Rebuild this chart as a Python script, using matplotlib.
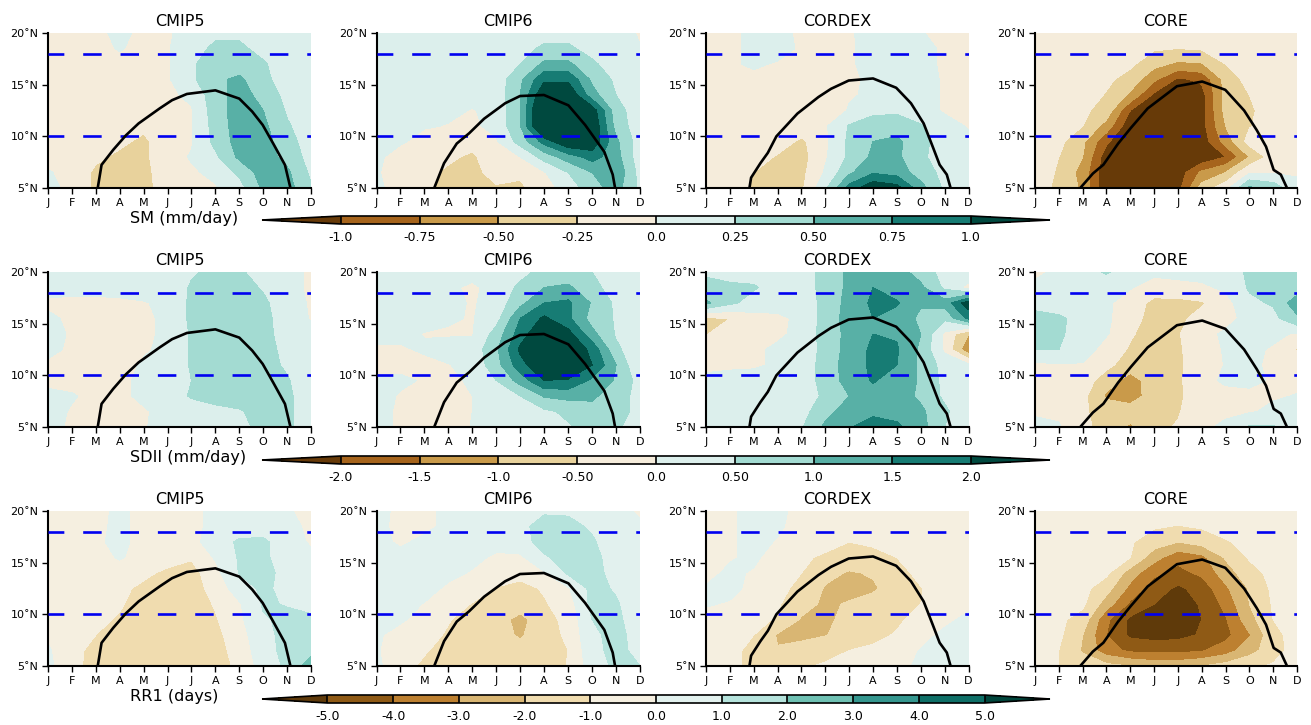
import matplotlib
matplotlib.use('Agg')
import matplotlib.pyplot as plt

W, H = 1311, 725

months = ['J', 'F', 'M', 'A', 'M', 'J', 'J', 'A', 'S', 'O', 'N', 'D']
month_pos = list(range(12))
lats = [20, 18.5, 17, 15.5, 14, 12.5, 11, 9.5, 8, 6.5, 5]
models = ['CMIP5', 'CMIP6', 'CORDEX', 'CORE']

# SM (mm/day), one row per latitude from 20N down to 5N
sm_cmip5 = [
    [-.1, -.1, -.05, .05, -.05, -.03, .1, .2, .2, .15, .1, .05],
    [-.1, -.1, -.08, .02, -.08, -.02, .15, .3, .3, .17, .1, .05],
    [-.1, -.1, -.1, -.08, -.1, -.03, .22, .36, .36, .28, .1, .05],
    [-.1, -.1, -.1, -.1, -.1, -.03, .2, .45, .55, .32, .12, .05],
    [-.1, -.1, -.1, -.1, -.1, -.05, .05, .4, .6, .42, .17, .07],
    [-.1, -.1, -.1, -.1, -.1, -.07, -.02, .38, .62, .5, .22, .08],
    [-.1, -.1, -.1, -.12, -.2, -.08, -.02, .35, .62, .56, .28, .1],
    [-.1, -.1, -.12, -.2, -.3, -.1, -.02, .32, .6, .6, .35, .12],
    [-.08, -.1, -.2, -.3, -.3, -.1, .02, .2, .55, .62, .42, .15],
    [.02, -.08, -.3, -.32, -.32, -.12, -.03, .05, .3, .62, .55, .2],
    [.05, -.05, -.3, -.32, -.32, -.15, -.08, -.02, .15, .55, .6, .28],
]
sm_cmip6 = [
    [.08, .08, .08, .08, .08, .1, .12, .15, .15, .12, .08, -.02],
    [.08, .08, .08, .08, .08, .1, .15, .3, .3, .15, .08, .01],
    [.08, .08, .08, .08, .08, .1, .25, .55, .55, .3, .1, .03],
    [.08, .08, .08, .08, .08, .1, .45, .95, .95, .45, .2, .05],
    [.08, .08, .08, .08, .05, .1, .5, 1.25, 1.25, .6, .25, .06],
    [.05, .06, .06, .04, -.01, .05, .5, 1.5, 1.5, 1.15, .35, .1],
    [.04, .05, .02, -.01, -.03, .05, .5, 1.5, 1.5, 1.25, .4, .1],
    [.03, .03, -.08, -.1, -.15, -.02, .35, .85, 1.25, 1.2, .55, .12],
    [.05, -.1, -.12, -.2, -.3, -.05, .0, .35, .62, .85, .6, .1],
    [.02, -.1, -.18, -.3, -.33, -.15, -.2, -.02, .25, .5, .7, .15],
    [.05, -.1, -.2, -.35, -.35, -.28, -.3, -.1, .1, .4, .6, .2],
]
sm_cordex = [
    [-.1, -.05, .05, .08, -.05, -.1, -.03, .1, .1, .02, -.1, -.1],
    [-.1, -.05, .05, .08, -.03, -.1, -.03, .08, .1, .1, -.05, -.1],
    [-.1, -.03, .03, -.02, -.1, -.1, -.03, .08, .1, .1, -.05, -.1],
    [-.1, -.08, -.05, -.1, -.1, -.1, -.05, .05, .1, .1, -.03, -.1],
    [-.1, -.1, -.1, -.15, -.15, -.2, -.03, .05, .1, .1, -.03, -.1],
    [-.1, -.1, -.1, -.1, -.15, -.26, .03, .15, .2, .12, -.03, -.08],
    [-.1, -.1, -.1, -.12, -.1, -.03, .27, .45, .4, .27, .1, -.02],
    [-.1, -.1, -.1, -.12, -.3, -.05, .3, .5, .55, .33, .12, .06],
    [-.1, -.1, -.12, -.28, -.35, -.03, .3, .55, .55, .3, .12, .06],
    [-.1, -.1, -.25, -.32, -.32, .03, .45, .72, .65, .37, .18, .06],
    [-.1, -.1, -.3, -.3, -.3, .2, .85, 1.2, 1.1, .6, .2, .05],
]
sm_core = [
    [-.1, -.1, -.1, -.1, -.1, -.1, -.1, -.1, -.1, -.1, -.1, -.1],
    [-.1, -.1, -.1, -.1, -.12, -.22, -.25, -.22, -.15, -.1, -.1, -.1],
    [-.1, -.1, -.1, -.12, -.2, -.42, -.55, -.52, -.25, -.12, -.1, -.1],
    [-.1, -.1, -.12, -.2, -.35, -.7, -1.05, -.95, -.42, -.15, -.1, -.1],
    [-.1, -.1, -.13, -.27, -.55, -1.05, -1.3, -1.1, -.4, -.25, -.1, -.1],
    [-.1, -.1, -.2, -.35, -1.0, -1.3, -1.3, -1.1, -.42, -.3, -.1, -.1],
    [-.1, -.12, -.25, -.6, -1.2, -1.3, -1.3, -1.1, -.5, -.27, -.1, -.1],
    [-.1, -.18, -.45, -.95, -1.3, -1.3, -1.3, -1.15, -.65, -.15, -.1, -.1],
    [-.1, -.25, -.5, -1.15, -1.3, -1.3, -1.3, -1.2, -1.0, -.5, -.12, -.1],
    [-.12, -.28, -.6, -1.2, -1.3, -1.3, -1.15, -.7, -.5, -.03, -.02, -.02],
    [-.15, -.3, -.55, -1.25, -1.3, -1.3, -1.1, -.4, -.1, .55, .4, .05],
]

# SDII (mm/day)
sdii_cmip5 = [
    [.2, .2, .2, .2, .2, .2, .45, .6, .55, .35, .2, -.1],
    [.2, .2, .2, .2, .2, .2, .55, .7, .7, .45, .2, -.1],
    [-.1, -.15, -.15, -.1, -.03, .1, .6, .75, .7, .6, .2, -.05],
    [.1, -.1, -.2, -.2, -.1, .1, .6, .75, .7, .65, .25, -.03],
    [.15, -.05, -.2, -.2, -.1, .1, .55, .75, .75, .65, .3, .1],
    [.15, -.1, -.2, -.2, -.05, .1, .55, .75, .75, .7, .35, .15],
    [-.1, -.15, -.2, -.15, .05, .15, .55, .75, .75, .7, .42, .15],
    [-.15, -.2, -.2, -.1, .1, .2, .5, .7, .75, .7, .55, .15],
    [.15, .05, -.15, -.1, .1, .25, .55, .7, .75, .7, .6, .2],
    [.2, -.05, -.15, -.1, -.05, .15, .25, .35, .45, .7, .6, .2],
    [.2, -.1, -.15, -.1, -.03, .15, .2, .3, .4, .6, .6, .2],
]
sdii_cmip6 = [
    [.2, .2, .2, .2, .2, .2, .35, .65, .65, .5, .25, .2],
    [.2, .2, .2, .1, -.1, .2, .6, 1.0, 1.1, .6, .35, .2],
    [.2, .2, .2, .15, -.05, .2, .85, 1.5, 1.6, .95, .4, .2],
    [.2, .2, .15, .05, -.03, .3, 1.5, 2.1, 1.6, .8, .45, .1],
    [.1, .1, -.02, -.05, -.03, .7, 1.75, 2.5, 2.2, 1.15, .45, .15],
    [-.05, -.05, .05, .2, .2, .9, 2.1, 2.6, 2.5, 1.85, .6, .15],
    [-.15, -.15, -.1, -.02, .15, .8, 1.8, 2.5, 2.5, 2.0, 1.0, -.02],
    [.1, .1, -.05, -.15, .1, .5, 1.2, 2.0, 1.95, 1.4, .95, .3],
    [.2, -.05, -.2, -.2, 0, .2, .5, 1.05, 1.15, 1.1, .7, .35],
    [.2, -.1, -.2, -.2, 0, .1, .25, .4, .6, .8, .75, .3],
    [.2, -.1, -.2, -.2, .02, .1, .2, .3, .45, .7, .6, .2],
]
sdii_cordex = [
    [.45, .4, .3, .2, .2, .7, 1.1, 1.3, 1.2, .8, .3, .5],
    [.6, .55, .55, .3, .2, .7, 1.1, 1.5, 1.25, 1.1, .4, -.2],
    [1.1, .6, .3, .2, .1, .7, 1.15, 1.6, 1.55, 1.05, 1.2, 2.3],
    [-.6, -.5, -.2, -.1, .1, .7, 1.2, 1.5, 1.3, .9, .6, 1.6],
    [-.55, -.05, -.05, -.1, .15, .7, 1.15, 1.5, 1.45, 1.0, -.1, -1],
    [-.2, -.1, -.1, .1, .2, .65, 1.2, 1.6, 1.55, .9, -.1, -1.4],
    [-.1, -.05, -.05, .05, .2, .7, 1.25, 1.6, 1.5, .9, .3, .1],
    [.1, .1, .15, .1, .2, .7, 1.2, 1.55, 1.25, .95, .35, .1],
    [.1, .1, .1, .1, .2, .6, 1.0, 1.3, 1.25, .9, .4, .1],
    [.1, .1, .1, .1, .3, .85, 1.2, 1.35, 1.3, 1.1, .6, .1],
    [.1, .1, .1, .1, .45, 1.1, 1.45, 1.8, 1.6, 1.2, .5, .1],
]
sdii_core = [
    [-.1, .1, .3, .55, .25, .15, .15, .2, .35, .55, .65, .6],
    [.1, .1, .2, .2, .05, -.3, -.15, -.1, .1, .55, .7, .7],
    [.3, .2, .1, .1, -.3, -.6, -.65, -.55, -.2, .4, .55, 1.3],
    [.7, .6, .3, .1, -.35, -.65, -.6, -.35, -.1, .1, .35, .9],
    [.6, .6, .2, .05, -.45, -.7, -.55, -.1, .05, .05, .1, -.05],
    [.5, .5, .3, -.25, -.55, -.7, -.6, -.1, .02, .1, -.05, -.55],
    [-.1, -.05, -.05, -.4, -.7, -.7, -.6, -.2, .02, .05, -.05, -.2],
    [-.3, -.1, -.3, -.7, -1.25, -.7, -.6, -.1, .05, .1, -.05, -.1],
    [-.1, -.1, -.35, -1.1, -1.3, -.7, -.6, -.2, -.1, -.1, -.05, .02],
    [-.05, -.1, -.45, -.65, -.7, -.65, -.55, -.15, -.1, -.05, .1, .05],
    [.1, .05, -.4, -.65, -1.1, -.65, -.45, -.1, .1, .55, .55, .1],
]

# RR1 (days)
rr1_cmip5 = [
    [-.5, -.5, -.4, .3, -.4, -.5, -.2, .2, .4, .3, .1, -.3],
    [-.5, -.5, -.3, .3, -.4, -.5, -.2, .2, .5, .5, .3, -.2],
    [-.5, -.5, -.2, .3, -.4, -.5, -.3, .5, 1.15, 1.2, .4, -.1],
    [-.5, -.5, -.4, .1, -.4, -.6, -.9, .1, 1.1, 1.2, .5, .2],
    [-.5, -.5, -.5, -.5, -.8, -1.2, -1.4, -.3, 1.05, 1.3, .7, .3],
    [-.5, -.5, -.6, -.8, -1.2, -1.5, -1.5, -.6, .5, 1.2, .7, .4],
    [-.5, -.5, -.6, -.9, -1.4, -1.6, -1.6, -.9, -.1, 1.1, .95, .5],
    [-.3, -.5, -.8, -1.1, -1.5, -1.6, -1.6, -1.1, -.2, .9, 1.2, 1.3],
    [-.1, -.6, -1.0, -1.4, -1.6, -1.7, -1.7, -1.3, -.4, .7, 1.3, 1.5],
    [.1, -.6, -1.4, -1.6, -1.7, -1.7, -1.6, -1.4, -.6, .6, 1.3, 1.7],
    [.2, -.6, -1.5, -1.6, -1.7, -1.7, -1.7, -1.6, -.7, .4, 1.2, 2.5],
]
rr1_cmip6 = [
    [.4, -.3, -.3, .3, .5, .5, .6, .9, .9, .6, .4, -.2],
    [.4, -.4, -.3, .3, .5, .5, .8, 1.3, 1.2, .9, .5, .2],
    [.4, -.2, .3, .4, .5, .4, .7, 1.3, 1.3, 1.1, .5, .2],
    [.4, .4, .4, .4, .3, -.2, -.2, .9, 1.3, 1.2, .7, .3],
    [.4, .4, .4, .3, -.1, -.5, -.7, -.1, 1.15, 1.3, .7, .3],
    [.4, .4, .4, -.2, -.5, -1.05, -1.3, -.9, -.1, 1.3, .9, .3],
    [.4, .4, -.05, -.5, -1.05, -1.3, -1.5, -1.1, -.5, 1.3, 1.1, .4],
    [.4, .2, -.5, -.95, -1.3, -1.6, -2.3, -1.4, -.7, 1.0, 1.2, .5],
    [.2, -.5, -.7, -1.1, -1.4, -1.7, -2.1, -1.5, -.8, .8, 1.3, .6],
    [.1, -.6, -.9, -1.4, -1.6, -1.7, -1.7, -1.5, -1, .7, 1.3, .7],
    [.2, -.6, -1.2, -1.5, -1.6, -1.7, -1.7, -1.5, -.95, .5, 1.2, 1.0],
]
rr1_cordex = [
    [-.5, -.2, .4, .3, -.4, -.5, -.5, -.5, -.5, -.5, -.5, -.5],
    [-.5, -.2, .4, .2, -.5, -.5, -.5, -.5, -.5, -.5, -.5, -.5],
    [-.5, -.2, .4, -.1, -.5, -.6, -1.0, -.9, -.6, -.5, -.5, -.5],
    [-.4, -.1, .2, -.5, -.8, -1.2, -1.4, -1.2, -1, -.6, -.5, -.5],
    [-.3, .2, -.1, -.5, -1.0, -1.7, -2.1, -1.9, -1.4, -.7, -.5, -.5],
    [.1, .3, -.3, -.8, -1.2, -2.1, -2.4, -2.15, -1.5, -1.05, -.5, -.5],
    [.1, -.1, -.6, -.9, -1.6, -2.2, -1.9, -1.6, -1.4, -1, -.5, -.2],
    [-.4, -.5, -.7, -1.1, -2.1, -2.2, -1.7, -1.5, -1.2, -.6, -.2, .2],
    [-.5, -.5, -1.0, -2.1, -2.2, -2.05, -1.6, -1.3, -.9, -.3, .2, .4],
    [-.5, -.7, -1.3, -1.95, -1.7, -1.3, -1.0, -.8, -.5, .05, .3, .4],
    [-.5, -.8, -1.2, -1.2, -1.1, -.9, -.6, -.5, -.3, .2, .4, .4],
]
rr1_core = [
    [-.5, -.5, -.5, -.5, -.5, -.5, -.5, -.5, -.5, -.5, -.5, -.5],
    [-.5, -.5, -.5, -.5, -.6, -.9, -1.05, -.9, -.6, -.5, -.5, -.5],
    [-.5, -.5, -.5, -.6, -.9, -1.5, -2, -1.6, -1.1, -.7, -.5, -.5],
    [-.5, -.5, -.6, -.8, -1, -2.6, -3.7, -3.3, -1.9, -.9, -.5, -.5],
    [-.5, -.5, -.7, -.8, -2.5, -3.8, -4.3, -3.8, -2.5, -1.4, -.7, -.5],
    [-.5, -.6, -.7, -1.6, -3.3, -4.5, -5.2, -4.6, -3.2, -1.9, -.8, -.5],
    [-.5, -.7, -.8, -2.5, -4.2, -5.0, -5.5, -4.9, -3.7, -2, -.9, -.5],
    [-.5, -.8, -1.4, -3.8, -5.2, -5.6, -5.7, -5.0, -4.1, -2.4, -1.0, -.6],
    [-.6, -.8, -2, -4, -5.2, -5.4, -5.3, -4.9, -4.3, -3.1, -1.3, -.6],
    [-.6, -1, -2.1, -3.6, -4.2, -4.3, -4.3, -4.1, -3.5, -2.4, -1.4, -.6],
    [-.5, -1, -1.5, -1.7, -2, -2.3, -2.3, -2, -1.6, -1.2, -.9, -.5],
]

# black rain band edge for each model
edge_x_cmip5 = [2.08, 2.24, 2.73, 3.26, 3.79, 4.67, 5.19, 5.81, 7, 8, 8.54, 8.98, 9.42, 9.91, 10.14]
edge_y_cmip5 = [5, 7.24, 8.7, 10.1, 11.25, 12.7, 13.5, 14.1, 14.45, 13.65, 12.4, 11.1, 9.3, 7.24, 5]
edge_x_cmip6 = [2.41, 2.82, 3.35, 3.87, 4.49, 5.37, 5.99, 6.99, 8.01, 8.71, 9.51, 9.86, 9.96]
edge_y_cmip6 = [5, 7.4, 9.3, 10.3, 11.7, 13.2, 13.9, 14, 13, 11.1, 8.5, 6.3, 5]
edge_x_cordex = [1.82, 1.89, 2.28, 2.59, 2.95, 3.39, 3.83, 4.71, 5.24, 5.98, 7, 7.97, 8.59, 9.12, 9.5, 9.79, 10.09, 10.25]
edge_y_cordex = [5, 6, 7.4, 8.4, 10, 11.1, 12.2, 13.8, 14.6, 15.4, 15.6, 14.7, 13.2, 11.25, 9, 7.25, 6.3, 5]
edge_x_core = [1.9, 2.43, 2.87, 3.49, 4.02, 4.73, 5.96, 7.02, 7.99, 8.78, 9.31, 9.7, 10.02, 10.32, 10.58]
edge_y_core = [5, 6.4, 7.25, 9.3, 10.8, 12.7, 14.85, 15.3, 14.5, 12.5, 10.6, 9, 6.75, 6.3, 5]

sm_levels = [-1, -.75, -.5, -.25, 0, .25, .5, .75, 1]
sm_ticks = ['-1.0', '-0.75', '-0.50', '-0.25', '0.0', '0.25', '0.50', '0.75', '1.0']
sdii_levels = [-2, -1.5, -1, -.5, 0, .5, 1, 1.5, 2]
sdii_ticks = ['-2.0', '-1.5', '-1.0', '-0.50', '0.0', '0.50', '1.0', '1.5', '2.0']
rr1_levels = [-5, -4, -3, -2, -1, 0, 1, 2, 3, 4, 5]
rr1_ticks = ['-5.0', '-4.0', '-3.0', '-2.0', '-1.0', '0.0', '1.0', '2.0', '3.0', '4.0', '5.0']

colors_8 = ['#a6641c', '#c99a4a', '#e8d29c', '#f5ecdb', '#dcefec', '#a3dbd2', '#58b0a6', '#177c74']
under_8, over_8 = '#673a08', '#00493f'
colors_10 = ['#8f5a15', '#bd8030', '#d9b673', '#f0dcaf', '#f5efe0', '#e2f1ee', '#b5e3dc', '#6fc1b3', '#35978f', '#0e6f67']
under_10, over_10 = '#5f3a0a', '#00463c'

edges_x = [edge_x_cmip5, edge_x_cmip6, edge_x_cordex, edge_x_core]
edges_y = [edge_y_cmip5, edge_y_cmip6, edge_y_cordex, edge_y_core]

rows = [
    ([sm_cmip5, sm_cmip6, sm_cordex, sm_core], sm_levels, sm_ticks, colors_8, under_8, over_8, 'SM (mm/day)'),
    ([sdii_cmip5, sdii_cmip6, sdii_cordex, sdii_core], sdii_levels, sdii_ticks, colors_8, under_8, over_8, 'SDII (mm/day)'),
    ([rr1_cmip5, rr1_cmip6, rr1_cordex, rr1_core], rr1_levels, rr1_ticks, colors_10, under_10, over_10, 'RR1 (days)'),
]

# pixel boxes, measured from the top left
col_x = [(48, 311), (376.5, 640), (706, 968.5), (1035, 1297)]
row_y = [(33, 188), (272, 427), (511, 666)]
bar_y = [(216, 224), (456, 464), (695, 703)]
bar_x = [(341, 972), (341, 972), (327.5, 985)]
bar_tip = (262, 1050)
label_y = [218, 458, 697]


def add_box(x0, x1, y0, y1):
    return fig.add_axes([x0 / W, 1 - y1 / H, (x1 - x0) / W, (y1 - y0) / H])


fig = plt.figure(figsize=(W / 100, H / 100), dpi=100)

for r, (fields, levels, ticks, colors, under, over, name) in enumerate(rows):
    for c, field in enumerate(fields):
        ax = add_box(col_x[c][0], col_x[c][1], row_y[r][0], row_y[r][1])
        cf = ax.contourf(month_pos, lats, field, levels=levels, colors=colors, extend='both')
        cf.cmap.set_under(under)
        cf.cmap.set_over(over)
        cf.changed()
        ax.axhline(18, color='#0000f0', lw=1.9, ls=(1, (7.0, 7.15)), zorder=3)
        ax.axhline(10, color='#0000f0', lw=1.9, ls=(1, (7.0, 7.15)), zorder=3)
        ax.plot(edges_x[c], edges_y[c], color='black', lw=1.9, zorder=4)
        ax.set_xlim(0, 11)
        ax.set_ylim(5, 20)
        ax.set_xticks(month_pos)
        ax.set_xticklabels(months)
        ax.set_yticks([5, 10, 15, 20])
        ax.set_yticklabels(['5˚N', '10˚N', '15˚N', '20˚N'])
        ax.tick_params(labelsize=8, length=4, width=1, pad=3)
        ax.spines['top'].set_visible(False)
        ax.spines['right'].set_visible(False)
        ax.spines['left'].set_linewidth(1.5)
        ax.spines['bottom'].set_linewidth(1.5)
        ax.set_title(models[c], fontsize=11.5, pad=5)

    cax = add_box(bar_tip[0], bar_tip[1], bar_y[r][0], bar_y[r][1])
    frac = (bar_x[r][0] - bar_tip[0]) / (bar_x[r][1] - bar_x[r][0])
    cb = fig.colorbar(cf, cax=cax, orientation='horizontal', extend='both',
                      extendfrac=frac, drawedges=True, ticks=levels)
    cb.ax.set_xticklabels(ticks)
    cb.ax.tick_params(labelsize=9, length=0, pad=5)
    cb.outline.set_linewidth(1.2)
    cb.dividers.set_linewidth(1.2)

    fig.text(130 / W, 1 - label_y[r] / H, name, fontsize=11.6, va='center', ha='left')

plt.savefig('out.png', dpi=100)
plt.close()
